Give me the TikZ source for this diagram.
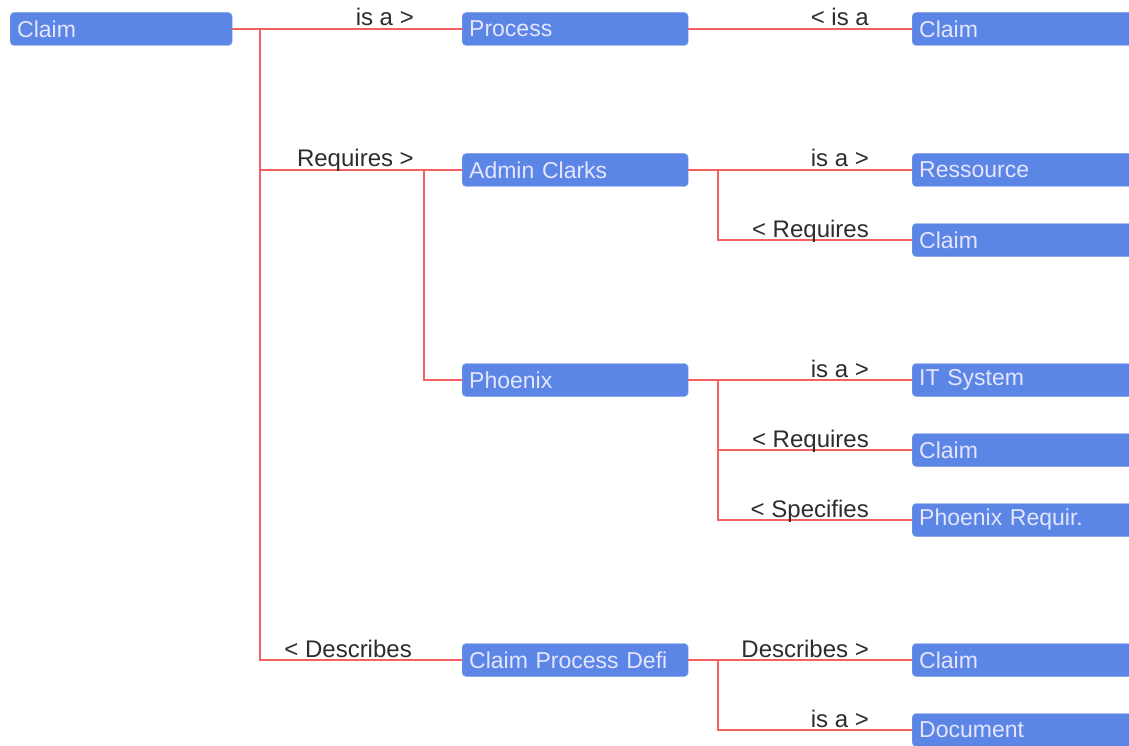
\documentclass[tikz,border=0pt]{standalone}
\usepackage{fontspec}
\setmainfont{Liberation Sans}
\definecolor{boxblue}{RGB}{92,134,230}
\definecolor{linkred}{RGB}{244,96,96}
\definecolor{labelgray}{RGB}{45,45,45}
\tikzset{
  topic/.style={anchor=west, fill=boxblue, draw=boxblue!80!white, rounded corners=4pt,
    minimum height=33pt, text width=212pt, inner xsep=7pt, inner ysep=0pt,
    align=left, text=white!90!blue, font=\fontsize{23}{26}\selectfont},
  leaf/.style={topic, text width=240pt},
  edgelbl/.style={anchor=base east, inner sep=0pt, text=labelgray, font=\fontsize{24}{26}\selectfont},
  link/.style={draw=linkred, line width=1.6pt}
}
\begin{document}
\begin{tikzpicture}[x=1pt,y=-1pt]
\useasboundingbox (0,0) rectangle (1129,746);
\clip (0,0) rectangle (1129,746);
% first column
\node[topic, text width=208pt] (root) at (10,29) {Claim};
% second column
\node[topic] (process) at (462,29) {Process};
\node[topic] (admin) at (462,170) {Admin Clarks};
\node[topic] (phoenix) at (462,380) {Phoenix};
\node[topic] (cpd) at (462,660) {Claim Process Defi};
% third column
\node[leaf] (claimA) at (912,29) {Claim};
\node[leaf] (ressource) at (912,170) {Ressource};
\node[leaf] (claimB) at (912,240) {Claim};
\node[leaf] (itsys) at (912,380) {IT System};
\node[leaf] (claimC) at (912,450) {Claim};
\node[leaf] (phreq) at (912,520) {Phoenix Requir.};
\node[leaf] (claimD) at (912,660) {Claim};
\node[leaf] (document) at (912,730) {Document};
% junctions of the tree
\coordinate (j1) at (260,29);
\coordinate (j2) at (424,170);
\coordinate (j3) at (718,170);
\coordinate (j4) at (718,380);
\coordinate (j5) at (718,660);
% links
\draw[link] (root.east) -- (process.west);
\draw[link] (j1) |- (j2) -- (admin.west);
\draw[link] (j2) |- (phoenix.west);
\draw[link] (j1) |- (cpd.west);
\draw[link] (process.east) -- (claimA.west);
\draw[link] (admin.east) -- (ressource.west);
\draw[link] (j3) |- (claimB.west);
\draw[link] (phoenix.east) -- (itsys.west);
\draw[link] (j4) |- (claimC.west);
\draw[link] (j4) |- (phreq.west);
\draw[link] (cpd.east) -- (claimD.west);
\draw[link] (j5) |- (document.west);
% labels
\node[edgelbl] (lisa1) at (414,26) {is a >};
\node[edgelbl] (lreq1) at (414,167) {Requires >};
\node[edgelbl] (ldesc1) at (412,657) {< Describes};
\node[edgelbl] (lisa2) at (869,26) {< is a};
\node[edgelbl] (lisa3) at (869,167) {is a >};
\node[edgelbl] (lreq2) at (869,237) {< Requires};
\node[edgelbl] (lisa4) at (869,377) {is a >};
\node[edgelbl] (lreq3) at (869,447) {< Requires};
\node[edgelbl] (lspec) at (869,517) {< Specifies};
\node[edgelbl] (ldesc2) at (869,657) {Describes >};
\node[edgelbl] (lisa5) at (869,727) {is a >};
\end{tikzpicture}
\end{document}
